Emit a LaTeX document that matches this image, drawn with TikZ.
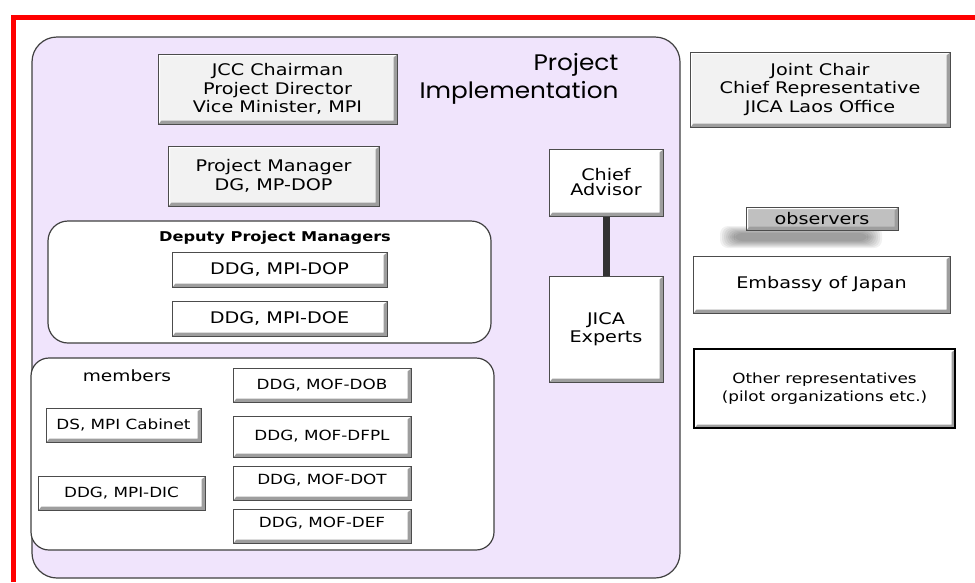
\documentclass[tikz,border=0pt]{standalone}
\usepackage{fontspec}
\setmainfont{DejaVu Sans}[FakeStretch=1.2]
\newfontfamily\titlefont{Poppins}[FakeStretch=1.1]
\usetikzlibrary{calc}
\definecolor{lavender}{HTML}{F0E4FC}
\definecolor{boxgray}{HTML}{F2F2F2}
\definecolor{obsgray}{HTML}{C0C0C0}
\tikzset{
  x=1pt, y=-1pt,
  bevel/.style={draw=black!70, line width=1pt, fill=#1, align=center,
    font=\fontsize{16}{18.5}\selectfont, inner sep=0pt,
    path picture={
      \coordinate (bsw) at (path picture bounding box.south west);
      \coordinate (bne) at (path picture bounding box.north east);
      \fill[black!38] (bsw) -- (bne |- bsw) -- (bne)
        -- ($(bne)+(-3.5pt,-3.5pt)$) -- ($(bne |- bsw)+(-3.5pt,3.5pt)$)
        -- ($(bsw)+(3.5pt,3.5pt)$) -- cycle;
      \fill[white] (bsw) -- (bsw |- bne) -- (bne)
        -- ($(bne)+(-2pt,-2pt)$) -- ($(bsw |- bne)+(2pt,-2pt)$)
        -- ($(bsw)+(2pt,2pt)$) -- cycle;
    }},
  bevel/.default=white,
  small/.style={font=\fontsize{14}{16}\selectfont},
  region/.style={draw=black!75, line width=1.2pt, fill=white},
  link/.style={line width=7pt, draw=black!80},
}
\begin{document}
\begin{tikzpicture}
\useasboundingbox (0,0) rectangle (975,582);
\fill[white] (0,0) rectangle (975,582);

% red frame
\draw[red, line width=5pt] (13,582) -- (13,17) -- (975,17);

% project implementation area
\draw[region, fill=lavender, rounded corners=25pt] (32,37) rectangle (680,578);
\node[anchor=east, align=right, font=\titlefont\fontsize{22.5}{28}\selectfont]
  (ptitle) at (622,79) {Project\\Implementation};

% deputy project managers group
\draw[region, rounded corners=20pt] (48,221) rectangle (491,343);
\node[font=\bfseries\fontsize{13.5}{15}\selectfont] (dtitle) at (275,238) {Deputy Project Managers};

% members group
\draw[region, rounded corners=18pt] (31,358) rectangle (494,550);
\node[font=\fontsize{15.5}{17}\selectfont] (mtitle) at (127,376) {members};

% boxes
\node[bevel=boxgray, minimum width=239, minimum height=70] (jcc) at (277.5,89)
  {JCC Chairman\\Project Director\\Vice Minister, MPI};
\node[bevel=boxgray, minimum width=211, minimum height=60] (pm) at (273.5,176)
  {Project Manager\\DG, MP-DOP};
\node[bevel, minimum width=215, minimum height=35] (dop) at (279.5,269.5) {DDG, MPI-DOP};
\node[bevel, minimum width=215, minimum height=35] (doe) at (279.5,318.5) {DDG, MPI-DOE};

\node[bevel, small, minimum width=155, minimum height=34] (cab) at (123.5,425) {DS, MPI Cabinet};
\node[bevel, small, minimum width=167, minimum height=34] (dic) at (121.5,493) {DDG, MPI-DIC};
\node[bevel, small, minimum width=178, minimum height=34] (dob) at (322,385) {DDG, MOF-DOB};
\node[bevel, small, minimum width=178, minimum height=41] (dfpl) at (322,436.5) {DDG, MOF-DFPL};
\node[bevel, small, minimum width=178, minimum height=34, text depth=7pt] (dot) at (322,483) {DDG, MOF-DOT};
\node[bevel, small, minimum width=178, minimum height=34, text depth=7pt] (def) at (322,526) {DDG, MOF-DEF};

\node[bevel, minimum width=114, minimum height=67, font=\fontsize{16}{15}\selectfont] (chief) at (606,182.5) {Chief\\Advisor};
\node[bevel, minimum width=114, minimum height=106, font=\fontsize{16}{18}\selectfont] (jica) at (606,329) {JICA\\Experts};
\draw[link] (chief.south) -- (jica.north);

% right-hand column
\node[bevel=boxgray, minimum width=260, minimum height=75] (joint) at (820,89.5)
  {Joint Chair\\Chief Representative\\JICA Laos Office};

% soft shadow under the observers tag
\foreach \i in {0,...,7}{
  \fill[black, opacity=0.055, rounded corners=8pt]
    (720+2*\i,226+\i) rectangle (882-2*\i,248-\i);
}
\node[bevel=obsgray, minimum width=152, minimum height=23, font=\fontsize{16}{18}\selectfont] (obs) at (822,218.5) {observers};

\node[bevel, minimum width=257, minimum height=57] (emb) at (821.5,284.5) {Embassy of Japan};
\node[bevel, draw=black, line width=1.8pt, minimum width=261, minimum height=79,
  font=\fontsize{14}{18}\selectfont] (other) at (824.5,388.5)
  {Other representatives\\(pilot organizations etc.)};
\end{tikzpicture}
\end{document}
